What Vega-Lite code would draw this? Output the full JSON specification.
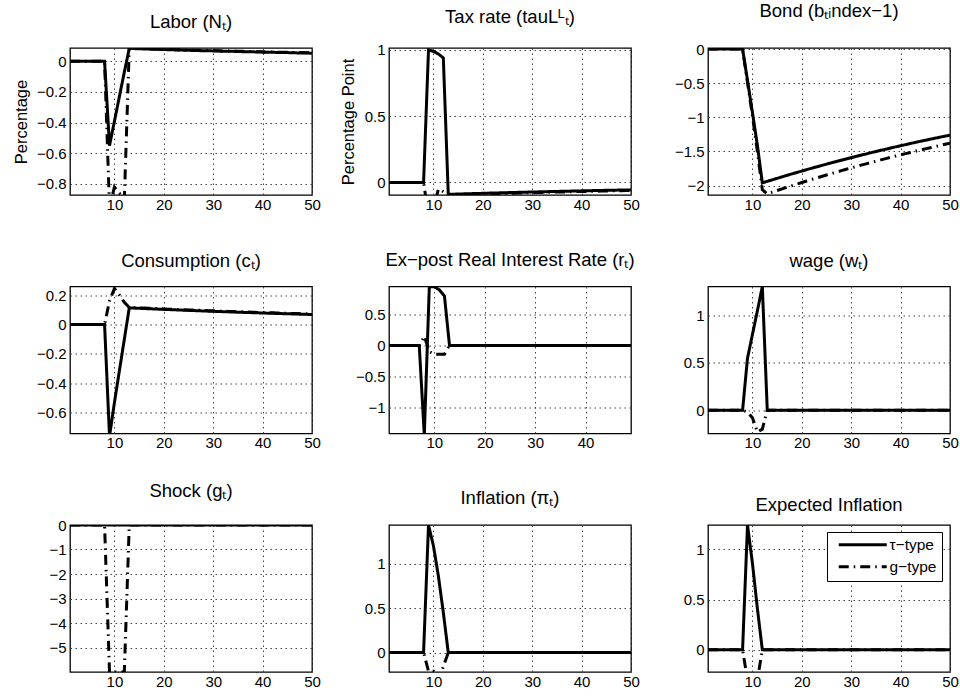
{
  "$schema": "https://vega.github.io/schema/vega-lite/v6.json",
  "background": "white",
  "padding": {"left": 12, "top": 0, "right": 5, "bottom": 5},
  "datasets": {
    "irf": [
      {"t":1,"N_tau":0,"N_g":0,"L_tau":0,"L_g":0,"B_tau":0,"B_g":0,"C_tau":0,"C_g":0,"R_tau":0,"R_g":0,"W_tau":0,"W_g":0,"G_tau":0,"G_g":0,"P_tau":0,"P_g":0,"E_tau":0,"E_g":0},
      {"t":2,"N_tau":0,"N_g":0,"L_tau":0,"L_g":0,"B_tau":0,"B_g":0,"C_tau":0,"C_g":0,"R_tau":0,"R_g":0,"W_tau":0,"W_g":0,"G_tau":0,"G_g":0,"P_tau":0,"P_g":0,"E_tau":0,"E_g":0},
      {"t":3,"N_tau":0,"N_g":0,"L_tau":0,"L_g":0,"B_tau":0,"B_g":0,"C_tau":0,"C_g":0,"R_tau":0,"R_g":0,"W_tau":0,"W_g":0,"G_tau":0,"G_g":0,"P_tau":0,"P_g":0,"E_tau":0,"E_g":0},
      {"t":4,"N_tau":0,"N_g":0,"L_tau":0,"L_g":0,"B_tau":0,"B_g":0,"C_tau":0,"C_g":0,"R_tau":0,"R_g":0,"W_tau":0,"W_g":0,"G_tau":0,"G_g":0,"P_tau":0,"P_g":0,"E_tau":0,"E_g":0},
      {"t":5,"N_tau":0,"N_g":0,"L_tau":0,"L_g":0,"B_tau":0,"B_g":0,"C_tau":0,"C_g":0,"R_tau":0,"R_g":0,"W_tau":0,"W_g":0,"G_tau":0,"G_g":0,"P_tau":0,"P_g":0,"E_tau":0,"E_g":0},
      {"t":6,"N_tau":0,"N_g":0,"L_tau":0,"L_g":0,"B_tau":0,"B_g":0,"C_tau":0,"C_g":0,"R_tau":0,"R_g":0,"W_tau":0,"W_g":0,"G_tau":0,"G_g":0,"P_tau":0,"P_g":0,"E_tau":0,"E_g":0},
      {"t":7,"N_tau":0,"N_g":0,"L_tau":0,"L_g":0,"B_tau":0,"B_g":0,"C_tau":0,"C_g":0,"R_tau":0,"R_g":0,"W_tau":0,"W_g":0,"G_tau":0,"G_g":0,"P_tau":0,"P_g":0,"E_tau":0,"E_g":0},
      {"t":8,"N_tau":0,"N_g":0,"L_tau":0,"L_g":0,"B_tau":0,"B_g":0,"C_tau":0,"C_g":0,"R_tau":-1.45,"R_g":0.15,"W_tau":0,"W_g":0,"G_tau":0,"G_g":0,"P_tau":0,"P_g":0,"E_tau":0,"E_g":0},
      {"t":9,"N_tau":-0.55,"N_g":-0.95,"L_tau":1.0,"L_g":-0.25,"B_tau":-0.46,"B_g":-0.49,"C_tau":-0.76,"C_g":0.16,"R_tau":0.955,"R_g":-0.1,"W_tau":0.55,"W_g":-0.02,"G_tau":0,"G_g":-6,"P_tau":1.435,"P_g":-0.21,"E_tau":1.241,"E_g":-0.3},
      {"t":10,"N_tau":-0.39,"N_g":-0.82,"L_tau":0.99,"L_g":-0.2,"B_tau":-0.93,"B_g":-0.98,"C_tau":-0.53,"C_g":0.245,"R_tau":0.95,"R_g":-0.14,"W_tau":0.8,"W_g":-0.08,"G_tau":0,"G_g":-6,"P_tau":1.2,"P_g":-0.21,"E_tau":0.86,"E_g":-0.28},
      {"t":11,"N_tau":-0.23,"N_g":-0.86,"L_tau":0.97,"L_g":-0.05,"B_tau":-1.41,"B_g":-1.5,"C_tau":-0.315,"C_g":0.2,"R_tau":0.9,"R_g":-0.14,"W_tau":1.05,"W_g":-0.23,"G_tau":0,"G_g":-6,"P_tau":0.86,"P_g":-0.3,"E_tau":0.41,"E_g":-0.3},
      {"t":12,"N_tau":-0.07,"N_g":-0.9,"L_tau":0.94,"L_g":-0.07,"B_tau":-1.96,"B_g":-2.06,"C_tau":-0.1,"C_g":0.15,"R_tau":0.8,"R_g":-0.14,"W_tau":1.306,"W_g":-0.2,"G_tau":0,"G_g":-6,"P_tau":0.45,"P_g":-0.16,"E_tau":0,"E_g":0},
      {"t":13,"N_tau":0.084,"N_g":0.086,"L_tau":-0.09,"L_g":-0.095,"B_tau":-1.937,"B_g":-2.12,"C_tau":0.113,"C_g":0.116,"R_tau":0,"R_g":0,"W_tau":0,"W_g":0,"G_tau":0,"G_g":0,"P_tau":0,"P_g":0,"E_tau":0,"E_g":0},
      {"t":14,"N_tau":0.083,"N_g":0.085,"L_tau":-0.0889,"L_g":-0.0939,"B_tau":-1.915,"B_g":-2.096,"C_tau":0.1115,"C_g":0.1145,"R_tau":0,"R_g":0,"W_tau":0,"W_g":0,"G_tau":0,"G_g":0,"P_tau":0,"P_g":0,"E_tau":0,"E_g":0},
      {"t":15,"N_tau":0.082,"N_g":0.084,"L_tau":-0.0877,"L_g":-0.0927,"B_tau":-1.893,"B_g":-2.071,"C_tau":0.1099,"C_g":0.1129,"R_tau":0,"R_g":0,"W_tau":0,"W_g":0,"G_tau":0,"G_g":0,"P_tau":0,"P_g":0,"E_tau":0,"E_g":0},
      {"t":16,"N_tau":0.081,"N_g":0.083,"L_tau":-0.0866,"L_g":-0.0916,"B_tau":-1.871,"B_g":-2.047,"C_tau":0.1084,"C_g":0.1114,"R_tau":0,"R_g":0,"W_tau":0,"W_g":0,"G_tau":0,"G_g":0,"P_tau":0,"P_g":0,"E_tau":0,"E_g":0},
      {"t":17,"N_tau":0.08,"N_g":0.082,"L_tau":-0.0855,"L_g":-0.0905,"B_tau":-1.849,"B_g":-2.024,"C_tau":0.1069,"C_g":0.1099,"R_tau":0,"R_g":0,"W_tau":0,"W_g":0,"G_tau":0,"G_g":0,"P_tau":0,"P_g":0,"E_tau":0,"E_g":0},
      {"t":18,"N_tau":0.079,"N_g":0.081,"L_tau":-0.0844,"L_g":-0.0894,"B_tau":-1.828,"B_g":-2.0,"C_tau":0.1055,"C_g":0.1085,"R_tau":0,"R_g":0,"W_tau":0,"W_g":0,"G_tau":0,"G_g":0,"P_tau":0,"P_g":0,"E_tau":0,"E_g":0},
      {"t":19,"N_tau":0.078,"N_g":0.08,"L_tau":-0.0833,"L_g":-0.0883,"B_tau":-1.807,"B_g":-1.977,"C_tau":0.104,"C_g":0.107,"R_tau":0,"R_g":0,"W_tau":0,"W_g":0,"G_tau":0,"G_g":0,"P_tau":0,"P_g":0,"E_tau":0,"E_g":0},
      {"t":20,"N_tau":0.077,"N_g":0.079,"L_tau":-0.0823,"L_g":-0.0873,"B_tau":-1.786,"B_g":-1.954,"C_tau":0.1026,"C_g":0.1056,"R_tau":0,"R_g":0,"W_tau":0,"W_g":0,"G_tau":0,"G_g":0,"P_tau":0,"P_g":0,"E_tau":0,"E_g":0},
      {"t":21,"N_tau":0.076,"N_g":0.078,"L_tau":-0.0812,"L_g":-0.0862,"B_tau":-1.765,"B_g":-1.932,"C_tau":0.1012,"C_g":0.1042,"R_tau":0,"R_g":0,"W_tau":0,"W_g":0,"G_tau":0,"G_g":0,"P_tau":0,"P_g":0,"E_tau":0,"E_g":0},
      {"t":22,"N_tau":0.075,"N_g":0.077,"L_tau":-0.0802,"L_g":-0.0852,"B_tau":-1.745,"B_g":-1.91,"C_tau":0.0998,"C_g":0.1028,"R_tau":0,"R_g":0,"W_tau":0,"W_g":0,"G_tau":0,"G_g":0,"P_tau":0,"P_g":0,"E_tau":0,"E_g":0},
      {"t":23,"N_tau":0.074,"N_g":0.076,"L_tau":-0.0792,"L_g":-0.0842,"B_tau":-1.725,"B_g":-1.888,"C_tau":0.0985,"C_g":0.1015,"R_tau":0,"R_g":0,"W_tau":0,"W_g":0,"G_tau":0,"G_g":0,"P_tau":0,"P_g":0,"E_tau":0,"E_g":0},
      {"t":24,"N_tau":0.073,"N_g":0.075,"L_tau":-0.0782,"L_g":-0.0832,"B_tau":-1.705,"B_g":-1.866,"C_tau":0.0971,"C_g":0.1001,"R_tau":0,"R_g":0,"W_tau":0,"W_g":0,"G_tau":0,"G_g":0,"P_tau":0,"P_g":0,"E_tau":0,"E_g":0},
      {"t":25,"N_tau":0.072,"N_g":0.074,"L_tau":-0.0772,"L_g":-0.0822,"B_tau":-1.685,"B_g":-1.844,"C_tau":0.0958,"C_g":0.0988,"R_tau":0,"R_g":0,"W_tau":0,"W_g":0,"G_tau":0,"G_g":0,"P_tau":0,"P_g":0,"E_tau":0,"E_g":0},
      {"t":26,"N_tau":0.071,"N_g":0.073,"L_tau":-0.0762,"L_g":-0.0812,"B_tau":-1.666,"B_g":-1.823,"C_tau":0.0945,"C_g":0.0975,"R_tau":0,"R_g":0,"W_tau":0,"W_g":0,"G_tau":0,"G_g":0,"P_tau":0,"P_g":0,"E_tau":0,"E_g":0},
      {"t":27,"N_tau":0.07,"N_g":0.072,"L_tau":-0.0752,"L_g":-0.0802,"B_tau":-1.647,"B_g":-1.802,"C_tau":0.0932,"C_g":0.0962,"R_tau":0,"R_g":0,"W_tau":0,"W_g":0,"G_tau":0,"G_g":0,"P_tau":0,"P_g":0,"E_tau":0,"E_g":0},
      {"t":28,"N_tau":0.069,"N_g":0.071,"L_tau":-0.0743,"L_g":-0.0793,"B_tau":-1.628,"B_g":-1.781,"C_tau":0.0919,"C_g":0.0949,"R_tau":0,"R_g":0,"W_tau":0,"W_g":0,"G_tau":0,"G_g":0,"P_tau":0,"P_g":0,"E_tau":0,"E_g":0},
      {"t":29,"N_tau":0.069,"N_g":0.071,"L_tau":-0.0733,"L_g":-0.0783,"B_tau":-1.609,"B_g":-1.76,"C_tau":0.0906,"C_g":0.0936,"R_tau":0,"R_g":0,"W_tau":0,"W_g":0,"G_tau":0,"G_g":0,"P_tau":0,"P_g":0,"E_tau":0,"E_g":0},
      {"t":30,"N_tau":0.068,"N_g":0.07,"L_tau":-0.0724,"L_g":-0.0774,"B_tau":-1.59,"B_g":-1.74,"C_tau":0.0894,"C_g":0.0924,"R_tau":0,"R_g":0,"W_tau":0,"W_g":0,"G_tau":0,"G_g":0,"P_tau":0,"P_g":0,"E_tau":0,"E_g":0},
      {"t":31,"N_tau":0.067,"N_g":0.069,"L_tau":-0.0715,"L_g":-0.0765,"B_tau":-1.572,"B_g":-1.72,"C_tau":0.0882,"C_g":0.0912,"R_tau":0,"R_g":0,"W_tau":0,"W_g":0,"G_tau":0,"G_g":0,"P_tau":0,"P_g":0,"E_tau":0,"E_g":0},
      {"t":32,"N_tau":0.066,"N_g":0.068,"L_tau":-0.0706,"L_g":-0.0756,"B_tau":-1.554,"B_g":-1.7,"C_tau":0.087,"C_g":0.09,"R_tau":0,"R_g":0,"W_tau":0,"W_g":0,"G_tau":0,"G_g":0,"P_tau":0,"P_g":0,"E_tau":0,"E_g":0},
      {"t":33,"N_tau":0.065,"N_g":0.067,"L_tau":-0.0697,"L_g":-0.0747,"B_tau":-1.536,"B_g":-1.681,"C_tau":0.0858,"C_g":0.0888,"R_tau":0,"R_g":0,"W_tau":0,"W_g":0,"G_tau":0,"G_g":0,"P_tau":0,"P_g":0,"E_tau":0,"E_g":0},
      {"t":34,"N_tau":0.065,"N_g":0.067,"L_tau":-0.0688,"L_g":-0.0738,"B_tau":-1.518,"B_g":-1.661,"C_tau":0.0846,"C_g":0.0876,"R_tau":0,"R_g":0,"W_tau":0,"W_g":0,"G_tau":0,"G_g":0,"P_tau":0,"P_g":0,"E_tau":0,"E_g":0},
      {"t":35,"N_tau":0.064,"N_g":0.066,"L_tau":-0.0679,"L_g":-0.0729,"B_tau":-1.5,"B_g":-1.642,"C_tau":0.0834,"C_g":0.0864,"R_tau":0,"R_g":0,"W_tau":0,"W_g":0,"G_tau":0,"G_g":0,"P_tau":0,"P_g":0,"E_tau":0,"E_g":0},
      {"t":36,"N_tau":0.063,"N_g":0.065,"L_tau":-0.0671,"L_g":-0.0721,"B_tau":-1.483,"B_g":-1.623,"C_tau":0.0823,"C_g":0.0853,"R_tau":0,"R_g":0,"W_tau":0,"W_g":0,"G_tau":0,"G_g":0,"P_tau":0,"P_g":0,"E_tau":0,"E_g":0},
      {"t":37,"N_tau":0.062,"N_g":0.064,"L_tau":-0.0662,"L_g":-0.0712,"B_tau":-1.466,"B_g":-1.604,"C_tau":0.0812,"C_g":0.0842,"R_tau":0,"R_g":0,"W_tau":0,"W_g":0,"G_tau":0,"G_g":0,"P_tau":0,"P_g":0,"E_tau":0,"E_g":0},
      {"t":38,"N_tau":0.062,"N_g":0.064,"L_tau":-0.0654,"L_g":-0.0704,"B_tau":-1.449,"B_g":-1.586,"C_tau":0.0801,"C_g":0.0831,"R_tau":0,"R_g":0,"W_tau":0,"W_g":0,"G_tau":0,"G_g":0,"P_tau":0,"P_g":0,"E_tau":0,"E_g":0},
      {"t":39,"N_tau":0.061,"N_g":0.063,"L_tau":-0.0645,"L_g":-0.0695,"B_tau":-1.432,"B_g":-1.567,"C_tau":0.079,"C_g":0.082,"R_tau":0,"R_g":0,"W_tau":0,"W_g":0,"G_tau":0,"G_g":0,"P_tau":0,"P_g":0,"E_tau":0,"E_g":0},
      {"t":40,"N_tau":0.06,"N_g":0.062,"L_tau":-0.0637,"L_g":-0.0687,"B_tau":-1.416,"B_g":-1.549,"C_tau":0.0779,"C_g":0.0809,"R_tau":0,"R_g":0,"W_tau":0,"W_g":0,"G_tau":0,"G_g":0,"P_tau":0,"P_g":0,"E_tau":0,"E_g":0},
      {"t":41,"N_tau":0.059,"N_g":0.061,"L_tau":-0.0629,"L_g":-0.0679,"B_tau":-1.399,"B_g":-1.531,"C_tau":0.0768,"C_g":0.0798,"R_tau":0,"R_g":0,"W_tau":0,"W_g":0,"G_tau":0,"G_g":0,"P_tau":0,"P_g":0,"E_tau":0,"E_g":0},
      {"t":42,"N_tau":0.059,"N_g":0.061,"L_tau":-0.0621,"L_g":-0.0671,"B_tau":-1.383,"B_g":-1.514,"C_tau":0.0758,"C_g":0.0788,"R_tau":0,"R_g":0,"W_tau":0,"W_g":0,"G_tau":0,"G_g":0,"P_tau":0,"P_g":0,"E_tau":0,"E_g":0},
      {"t":43,"N_tau":0.058,"N_g":0.06,"L_tau":-0.0613,"L_g":-0.0663,"B_tau":-1.367,"B_g":-1.496,"C_tau":0.0747,"C_g":0.0777,"R_tau":0,"R_g":0,"W_tau":0,"W_g":0,"G_tau":0,"G_g":0,"P_tau":0,"P_g":0,"E_tau":0,"E_g":0},
      {"t":44,"N_tau":0.057,"N_g":0.059,"L_tau":-0.0605,"L_g":-0.0655,"B_tau":-1.351,"B_g":-1.479,"C_tau":0.0737,"C_g":0.0767,"R_tau":0,"R_g":0,"W_tau":0,"W_g":0,"G_tau":0,"G_g":0,"P_tau":0,"P_g":0,"E_tau":0,"E_g":0},
      {"t":45,"N_tau":0.057,"N_g":0.059,"L_tau":-0.0598,"L_g":-0.0648,"B_tau":-1.336,"B_g":-1.462,"C_tau":0.0727,"C_g":0.0757,"R_tau":0,"R_g":0,"W_tau":0,"W_g":0,"G_tau":0,"G_g":0,"P_tau":0,"P_g":0,"E_tau":0,"E_g":0},
      {"t":46,"N_tau":0.056,"N_g":0.058,"L_tau":-0.059,"L_g":-0.064,"B_tau":-1.32,"B_g":-1.445,"C_tau":0.0717,"C_g":0.0747,"R_tau":0,"R_g":0,"W_tau":0,"W_g":0,"G_tau":0,"G_g":0,"P_tau":0,"P_g":0,"E_tau":0,"E_g":0},
      {"t":47,"N_tau":0.055,"N_g":0.057,"L_tau":-0.0583,"L_g":-0.0633,"B_tau":-1.305,"B_g":-1.428,"C_tau":0.0707,"C_g":0.0737,"R_tau":0,"R_g":0,"W_tau":0,"W_g":0,"G_tau":0,"G_g":0,"P_tau":0,"P_g":0,"E_tau":0,"E_g":0},
      {"t":48,"N_tau":0.055,"N_g":0.057,"L_tau":-0.0575,"L_g":-0.0625,"B_tau":-1.29,"B_g":-1.412,"C_tau":0.0698,"C_g":0.0728,"R_tau":0,"R_g":0,"W_tau":0,"W_g":0,"G_tau":0,"G_g":0,"P_tau":0,"P_g":0,"E_tau":0,"E_g":0},
      {"t":49,"N_tau":0.054,"N_g":0.056,"L_tau":-0.0568,"L_g":-0.0618,"B_tau":-1.275,"B_g":-1.395,"C_tau":0.0688,"C_g":0.0718,"R_tau":0,"R_g":0,"W_tau":0,"W_g":0,"G_tau":0,"G_g":0,"P_tau":0,"P_g":0,"E_tau":0,"E_g":0},
      {"t":50,"N_tau":0.053,"N_g":0.055,"L_tau":-0.0561,"L_g":-0.0611,"B_tau":-1.261,"B_g":-1.379,"C_tau":0.0679,"C_g":0.0709,"W_tau":0,"W_g":0,"G_tau":0,"G_g":0,"P_tau":0,"P_g":0,"E_tau":0,"E_g":0}
    ]
  },
  "data": {"name": "irf"},
  "columns": 3,
  "spacing": {"row": 91.5, "column": 77},
  "bounds": "flush",
  "resolve": {"scale": {"strokeDash": "independent"}, "legend": {"strokeDash": "independent"}},
  "concat": [
    {
      "width": 242, "height": 147,
      "title": {"text": "Labor (Nₜ)", "offset": 16.5},
      "transform": [{"fold": ["N_tau", "N_g"], "as": ["type", "v"]}],
      "mark": {"type": "line", "clip": true, "strokeWidth": 3, "color": "black"},
      "encoding": {
        "x": {"field": "t", "type": "quantitative", "scale": {"domain": [1, 50], "nice": false, "zero": false}, "axis": {"values": [10, 20, 30, 40, 50], "title": null}},
        "y": {"field": "v", "type": "quantitative", "scale": {"domain": [-0.872, 0.087], "nice": false, "zero": false}, "axis": {"values": [-0.8, -0.6, -0.4, -0.2, 0], "format": "~g", "title": "Percentage", "titlePadding": 7}},
        "strokeDash": {"field": "type", "type": "nominal", "scale": {"domain": ["N_tau", "N_g"], "range": [[1, 0], [10, 5, 1.5, 5]]}, "legend": null}
      }
    },
    {
      "width": 242, "height": 147,
      "title": {"text": "Tax rate (tauLᴸₜ)", "offset": 16},
      "transform": [{"fold": ["L_tau", "L_g"], "as": ["type", "v"]}],
      "mark": {"type": "line", "clip": true, "strokeWidth": 3, "color": "black"},
      "encoding": {
        "x": {"field": "t", "type": "quantitative", "scale": {"domain": [1, 50], "nice": false, "zero": false}, "axis": {"values": [10, 20, 30, 40, 50], "title": null}},
        "y": {"field": "v", "type": "quantitative", "scale": {"domain": [-0.095, 1.015], "nice": false, "zero": false}, "axis": {"values": [0, 0.5, 1], "format": "~g", "title": "Percentage Point", "titlePadding": 8}},
        "strokeDash": {"field": "type", "type": "nominal", "scale": {"domain": ["L_tau", "L_g"], "range": [[1, 0], [10, 5, 1.5, 5]]}, "legend": null}
      }
    },
    {
      "width": 242, "height": 147,
      "title": {"text": "Bond (bₜᵢndex−1)", "offset": 22},
      "transform": [{"fold": ["B_tau", "B_g"], "as": ["type", "v"]}],
      "mark": {"type": "line", "clip": true, "strokeWidth": 3, "color": "black"},
      "encoding": {
        "x": {"field": "t", "type": "quantitative", "scale": {"domain": [1, 50], "nice": false, "zero": false}, "axis": {"values": [10, 20, 30, 40, 50], "title": null}},
        "y": {"field": "v", "type": "quantitative", "scale": {"domain": [-2.137, 0.015], "nice": false, "zero": false}, "axis": {"values": [-2, -1.5, -1, -0.5, 0], "format": "~g", "title": null}},
        "strokeDash": {"field": "type", "type": "nominal", "scale": {"domain": ["B_tau", "B_g"], "range": [[1, 0], [10, 5, 1.5, 5]]}, "legend": null}
      }
    },
    {
      "width": 242, "height": 147,
      "title": {"text": "Consumption (cₜ)", "offset": 16.5},
      "transform": [{"fold": ["C_tau", "C_g"], "as": ["type", "v"]}],
      "mark": {"type": "line", "clip": true, "strokeWidth": 3, "color": "black"},
      "encoding": {
        "x": {"field": "t", "type": "quantitative", "scale": {"domain": [1, 50], "nice": false, "zero": false}, "axis": {"values": [10, 20, 30, 40, 50], "title": null}},
        "y": {"field": "v", "type": "quantitative", "scale": {"domain": [-0.741, 0.258], "nice": false, "zero": false}, "axis": {"values": [-0.6, -0.4, -0.2, 0, 0.2], "format": "~g", "title": null}},
        "strokeDash": {"field": "type", "type": "nominal", "scale": {"domain": ["C_tau", "C_g"], "range": [[1, 0], [10, 5, 1.5, 5]]}, "legend": null}
      }
    },
    {
      "width": 242, "height": 147,
      "title": {"text": "Ex−post Real Interest Rate (rₜ)", "offset": 17.5},
      "transform": [{"filter": "datum.t <= 49"}, {"fold": ["R_tau", "R_g"], "as": ["type", "v"]}],
      "mark": {"type": "line", "clip": true, "strokeWidth": 3, "color": "black"},
      "encoding": {
        "x": {"field": "t", "type": "quantitative", "scale": {"domain": [1, 49], "nice": false, "zero": false}, "axis": {"values": [10, 20, 30, 40], "title": null}},
        "y": {"field": "v", "type": "quantitative", "scale": {"domain": [-1.424, 0.955], "nice": false, "zero": false}, "axis": {"values": [-1, -0.5, 0, 0.5], "format": "~g", "title": null}},
        "strokeDash": {"field": "type", "type": "nominal", "scale": {"domain": ["R_tau", "R_g"], "range": [[1, 0], [10, 5, 1.5, 5]]}, "legend": null}
      }
    },
    {
      "width": 242, "height": 147,
      "title": {"text": "wage (wₜ)", "offset": 16.5},
      "transform": [{"fold": ["W_tau", "W_g"], "as": ["type", "v"]}],
      "mark": {"type": "line", "clip": true, "strokeWidth": 3, "color": "black"},
      "encoding": {
        "x": {"field": "t", "type": "quantitative", "scale": {"domain": [1, 50], "nice": false, "zero": false}, "axis": {"values": [10, 20, 30, 40, 50], "title": null}},
        "y": {"field": "v", "type": "quantitative", "scale": {"domain": [-0.246, 1.306], "nice": false, "zero": false}, "axis": {"values": [0, 0.5, 1], "format": "~g", "title": null}},
        "strokeDash": {"field": "type", "type": "nominal", "scale": {"domain": ["W_tau", "W_g"], "range": [[1, 0], [10, 5, 1.5, 5]]}, "legend": null}
      }
    },
    {
      "width": 242, "height": 147,
      "title": {"text": "Shock (gₜ)", "offset": 18},
      "transform": [{"fold": ["G_tau", "G_g"], "as": ["type", "v"]}],
      "mark": {"type": "line", "clip": true, "strokeWidth": 3, "color": "black"},
      "encoding": {
        "x": {"field": "t", "type": "quantitative", "scale": {"domain": [1, 50], "nice": false, "zero": false}, "axis": {"values": [10, 20, 30, 40, 50], "title": null}},
        "y": {"field": "v", "type": "quantitative", "scale": {"domain": [-6, 0], "nice": false, "zero": false}, "axis": {"values": [-5, -4, -3, -2, -1, 0], "format": "~g", "title": null}},
        "strokeDash": {"field": "type", "type": "nominal", "scale": {"domain": ["G_tau", "G_g"], "range": [[1, 0], [10, 5, 1.5, 5]]}, "legend": null}
      }
    },
    {
      "width": 242, "height": 147,
      "title": {"text": "Inflation (πₜ)", "offset": 17.5},
      "transform": [{"fold": ["P_tau", "P_g"], "as": ["type", "v"]}],
      "mark": {"type": "line", "clip": true, "strokeWidth": 3, "color": "black"},
      "encoding": {
        "x": {"field": "t", "type": "quantitative", "scale": {"domain": [1, 50], "nice": false, "zero": false}, "axis": {"values": [10, 20, 30, 40, 50], "title": null}},
        "y": {"field": "v", "type": "quantitative", "scale": {"domain": [-0.219, 1.435], "nice": false, "zero": false}, "axis": {"values": [0, 0.5, 1], "format": "~g", "title": null}},
        "strokeDash": {"field": "type", "type": "nominal", "scale": {"domain": ["P_tau", "P_g"], "range": [[1, 0], [10, 5, 1.5, 5]]}, "legend": null}
      }
    },
    {
      "width": 242, "height": 147,
      "title": {"text": "Expected Inflation", "offset": 10.5},
      "transform": [{"fold": ["E_tau", "E_g"], "as": ["type", "v"]}],
      "mark": {"type": "line", "clip": true, "strokeWidth": 3, "color": "black"},
      "encoding": {
        "x": {"field": "t", "type": "quantitative", "scale": {"domain": [1, 50], "nice": false, "zero": false}, "axis": {"values": [10, 20, 30, 40, 50], "title": null}},
        "y": {"field": "v", "type": "quantitative", "scale": {"domain": [-0.221, 1.241], "nice": false, "zero": false}, "axis": {"values": [0, 0.5, 1], "format": "~g", "title": null}},
        "strokeDash": {
          "field": "type", "type": "nominal",
          "scale": {"domain": ["E_tau", "E_g"], "range": [[1, 0], [10, 5, 1.5, 5]]},
          "legend": {
            "orient": "none", "legendX": 119, "legendY": 7, "title": null,
            "strokeColor": "black", "fillColor": "white", "padding": 5, "cornerRadius": 0,
            "symbolType": "M-0.167,0L7.833,0", "symbolSize": 144, "symbolStrokeWidth": 3, "symbolStrokeColor": "black",
            "labelFont": "Liberation Sans", "labelFontSize": 15.5, "labelColor": "black", "labelOffset": 42, "rowPadding": 5,
            "labelExpr": "datum.value === 'E_tau' ? 'τ−type' : 'g−type'"
          }
        }
      }
    }
  ],
  "config": {
    "font": "Liberation Sans",
    "view": {"stroke": "black", "strokeWidth": 1.3},
    "axis": {
      "domain": false, "ticks": false, "grid": true,
      "gridColor": "#444", "gridDash": [1.5, 3.5], "gridWidth": 1,
      "labelFont": "Liberation Sans", "labelFontSize": 15, "labelColor": "black", "labelPadding": 4,
      "labelFlush": false, "labelOverlap": false,
      "titleFont": "Liberation Sans", "titleFontSize": 16.5, "titleFontWeight": "normal", "titleColor": "black"
    },
    "axisX": {"labelPadding": 2},
    "title": {"font": "Liberation Sans", "fontSize": 18.5, "fontWeight": "normal", "color": "black", "baseline": "alphabetic", "frame": "group", "anchor": "middle"}
  }
}
